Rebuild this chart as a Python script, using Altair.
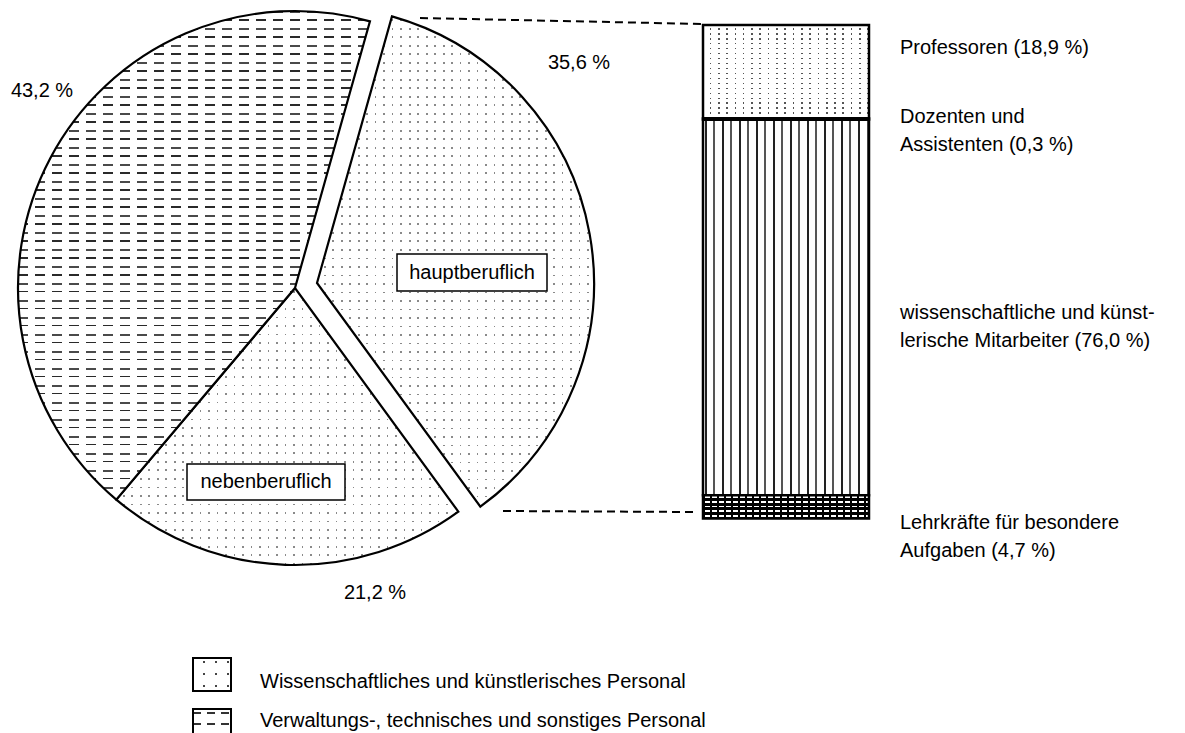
import math
import altair as alt
import pandas as pd

# ---------------- data ----------------
pie_categories = ["hauptberuflich", "nebenberuflich",
                  "Verwaltungs-, technisches und sonstiges Personal"]
pie_values = [35.6, 21.2, 43.2]

bar_categories = ["Professoren", "Dozenten und Assistenten",
                  "wissenschaftliche und künstlerische Mitarbeiter",
                  "Lehrkräfte für besondere Aufgaben"]
bar_values = [18.9, 0.3, 76.0, 4.7]
bar_label_lines = [["Professoren (18,9 %)"],
                   ["Dozenten und", "Assistenten (0,3 %)"],
                   ["wissenschaftliche und künst-", "lerische Mitarbeiter (76,0 %)"],
                   ["Lehrkräfte für besondere", "Aufgaben (4,7 %)"]]

legend_labels = ["Wissenschaftliches und künstlerisches Personal",
                 "Verwaltungs-, technisches und sonstiges Personal"]


def fmt(v):
    return f"{v:.1f}".replace(".", ",") + " %"


FONT = "Liberation Sans"
FS = 20
TRANSP = "rgba(255,255,255,0)"

pie_df = pd.DataFrame({"c": pie_categories, "v": pie_values, "o": range(len(pie_values))})
bar_df = pd.DataFrame({"c": bar_categories, "v": bar_values, "o": range(len(bar_values))})


# ---------------- pattern helpers (gradients) ----------------
def stripes(size, period, lines, bg, along_x=False):
    stops = [(0.0, bg)]
    n = int(size / period) + 2
    done = False
    for k in range(n):
        for off, th, col in sorted(lines):
            a = (k * period + off) / size
            b = (k * period + off + th) / size
            if a >= 1:
                done = True
                break
            b = min(b, 1.0)
            stops += [(a, bg), (a, col), (b, col), (b, bg)]
        if done:
            break
    stops.append((1.0, bg))
    return alt.LinearGradient(
        gradient="linear",
        stops=[alt.GradientStop(offset=round(o, 5), color=c) for o, c in stops],
        x1=0, y1=0, x2=(1 if along_x else 0), y2=(0 if along_x else 1),
    )


def dots(w, h, px=8.5, py=8.5, dot=1.8, col="#8a8a8a"):
    base = stripes(h, py, [(3, dot, col)], "white")
    over = stripes(w, px, [(0, px - dot, "white")], TRANSP, along_x=True)
    return base, over


def dashes(w, h):
    base = stripes(h, 17, [(0, 2.4, "#4a4a4a"), (8.5, 1.2, "#2a2a2a")], "white")
    over = stripes(w, 17, [(10, 7, "white")], TRANSP, along_x=True)
    return base, over


# ---------------- pie ----------------
CX, CY, R = 287, 280, 277
a0 = math.radians(15.7)
theta_scale = alt.Scale(domain=[0, 100], range=[a0, a0 + 2 * math.pi])

pie_base = alt.Chart(pie_df).transform_window(
    cum="sum(v)", sort=[alt.SortField("o")], frame=[None, 0]
).transform_calculate(start="datum.cum - datum.v")

slice_style = {
    pie_categories[0]: (dots(277, 490), (22, -5)),
    pie_categories[1]: (dots(342, 277), (0, 0)),
    pie_categories[2]: (dashes(352, 489), (0, 0)),
}

pie_layers = []
for cat in pie_categories:
    (base_g, over_g), (dx, dy) = slice_style[cat]
    enc = dict(
        theta=alt.Theta("start:Q", scale=theta_scale),
        theta2=alt.Theta2("cum:Q"),
        x=alt.value(CX + dx), y=alt.value(CY + dy),
    )
    sel = pie_base.transform_filter(alt.datum.c == cat)
    pie_layers.append(sel.mark_arc(radius=R, fill=base_g, strokeWidth=0).encode(**enc))
    pie_layers.append(sel.mark_arc(radius=R, fill=over_g, stroke="black",
                                   strokeWidth=2.2, strokeJoin="miter").encode(**enc))

# ---------------- stacked bar ----------------
BX0, BX1 = 695, 861
y_scale = alt.Scale(domain=[0, 100], range=[17, 511])
bar_base = alt.Chart(bar_df).transform_window(
    cum="sum(v)", sort=[alt.SortField("o")], frame=[None, 0]
).transform_calculate(start="datum.cum - datum.v")

bw = BX1 - BX0
prof_b, prof_o = dots(bw, 94, px=8.3, py=5, dot=1.6, col="#555")
mit_fill = stripes(bw, 17, [(2, 2.4, "#222"), (10.5, 1.2, "#555")], "white", along_x=True)
lk_b = stripes(23, 4.6, [(1.2, 1.6, "white")], "black")
lk_o = stripes(bw, 7, [(0, 2.2, "black")], TRANSP, along_x=True)

bar_style = {
    bar_categories[0]: [prof_b, prof_o],
    bar_categories[1]: ["black"],
    bar_categories[2]: [mit_fill],
    bar_categories[3]: [lk_b, lk_o],
}

bar_layers = []
for cat in bar_categories:
    fills = bar_style[cat]
    sel = bar_base.transform_filter(alt.datum.c == cat)
    enc = dict(
        y=alt.Y("start:Q", scale=y_scale, axis=None),
        y2=alt.Y2("cum:Q"),
        x=alt.value(BX0), x2=alt.value(BX1),
    )
    for i, f in enumerate(fills):
        last = i == len(fills) - 1
        if last:
            bar_layers.append(sel.mark_rect(fill=f, stroke="black", strokeWidth=2.5).encode(**enc))
        else:
            bar_layers.append(sel.mark_rect(fill=f, strokeWidth=0).encode(**enc))

# ---------------- connectors ----------------
def rule(x1, y1, x2, y2):
    return alt.Chart(pd.DataFrame({"k": [0]})).mark_rule(
        stroke="black", strokeWidth=2, strokeDash=[8, 5]
    ).encode(x=alt.value(x1), y=alt.value(y1), x2=alt.value(x2), y2=alt.value(y2))


connectors = [rule(412, 10, 695, 16), rule(495, 503, 685, 504)]

# ---------------- texts ----------------
def text(lines, x, y, align="center", lh=28):
    return alt.Chart(pd.DataFrame({"t": ["\n".join(lines)]})).mark_text(
        font=FONT, fontSize=FS, color="black", align=align, baseline="middle",
        lineBreak="\n", lineHeight=lh,
    ).encode(text="t:N", x=alt.value(x), y=alt.value(y))


def box(x0, y0, x1, y1):
    return alt.Chart(pd.DataFrame({"k": [0]})).mark_rect(
        fill="white", stroke="black", strokeWidth=1.5
    ).encode(x=alt.value(x0), x2=alt.value(x1), y=alt.value(y0), y2=alt.value(y1))


texts = [
    text([fmt(pie_values[2])], 34, 83),
    text([fmt(pie_values[0])], 571, 55),
    text([fmt(pie_values[1])], 367, 585),
    box(389, 246, 539, 283), text([pie_categories[0]], 464, 265),
    box(179, 456, 337, 492), text([pie_categories[1]], 258, 474),
]
bar_label_y = [40, 109, 305, 515]
for lines, yy in zip(bar_label_lines, bar_label_y):
    texts.append(text(lines, 892, yy, align="left"))

# ---------------- legend ----------------
leg = []
sq1_b, sq1_o = dots(38, 33, px=12, py=12, dot=1.8, col="#444")
sq2_b = stripes(33, 11, [(3, 2, "#333")], "white")
sq2_o = stripes(38, 14, [(8, 6, "white")], TRANSP, along_x=True)
for (f_b, f_o), y0, ty, lab in [((sq1_b, sq1_o), 650, 674, legend_labels[0]),
                                ((sq2_b, sq2_o), 701, 713, legend_labels[1])]:
    d = pd.DataFrame({"k": [0]})
    enc = dict(x=alt.value(185), x2=alt.value(223), y=alt.value(y0), y2=alt.value(y0 + 33))
    leg.append(alt.Chart(d).mark_rect(fill=f_b, strokeWidth=0).encode(**enc))
    leg.append(alt.Chart(d).mark_rect(fill=f_o, stroke="black", strokeWidth=2).encode(**enc))
    leg.append(text([lab], 252, ty, align="left"))

chart = alt.layer(*pie_layers, *bar_layers, *connectors, *texts, *leg).properties(
    width=1169, height=725, padding=0, autosize=alt.AutoSizeParams(type="none")
).configure_view(stroke=None)

chart.save("out.html", embed_options={"renderer": "svg", "actions": False})
